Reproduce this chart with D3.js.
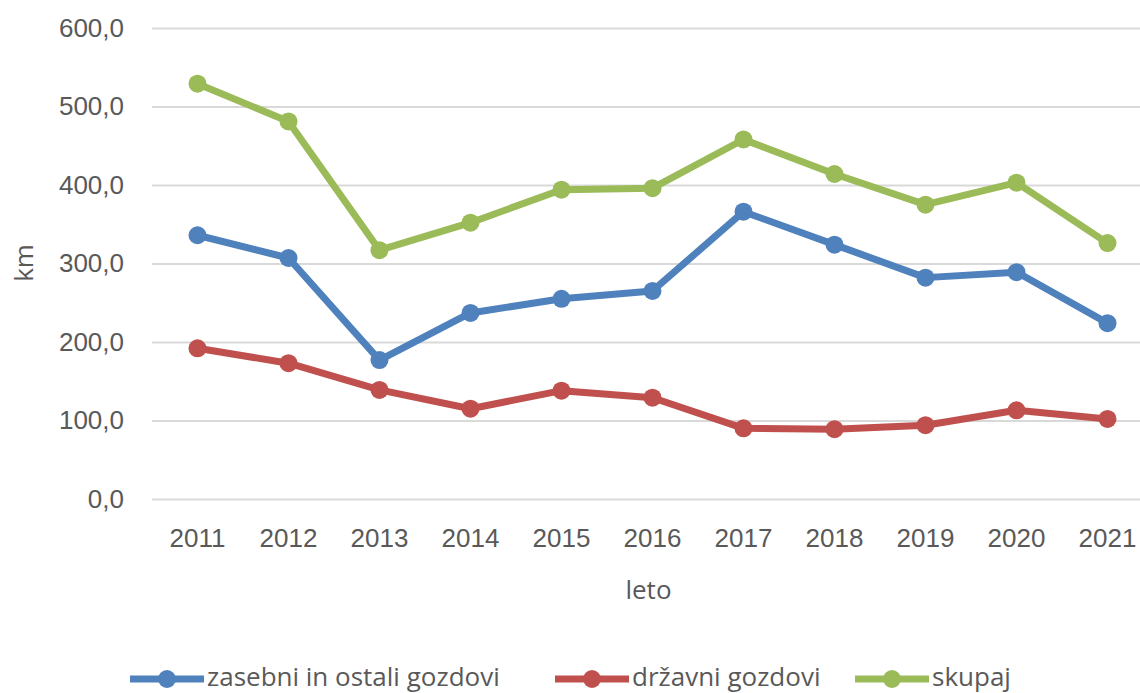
<!DOCTYPE html>
<html>
<head>
<meta charset="utf-8">
<script src="https://cdn.jsdelivr.net/npm/d3@7"></script>
<style>
  body { margin: 0; background: #fff; }
  svg { display: block; font-family: "Open Sans", sans-serif; }
  .tick text { fill: #595959; font-size: 26px; }
</style>
</head>
<body>
<div id="chart"></div>
<script>
// data
var years = ["2011","2012","2013","2014","2015","2016","2017","2018","2019","2020","2021"];
var zasebni = [336, 307, 177, 237, 255, 265, 366, 324, 282, 289, 224];
var drzavni = [192, 173, 139, 115, 138, 129, 90, 89, 94, 113, 102];
var skupaj  = [529, 481, 317, 352, 394, 396, 458, 414, 375, 403, 326];
var seriesNames  = ["zasebni in ostali gozdovi", "državni gozdovi", "skupaj"];
var seriesColors = ["#4F81BD", "#C0504D", "#9BBB59"];
var yTicks = [0, 100, 200, 300, 400, 500, 600];

var W = 1140, H = 693;
var plot = {left: 152, right: 1153, top: 28, bottom: 499};

var svg = d3.select("#chart").append("svg")
    .attr("width", W)
    .attr("height", H);

var x = d3.scaleBand()
    .domain(years)
    .range([plot.left, plot.right])
    .padding(0);

var y = d3.scaleLinear()
    .domain([0, 600])
    .range([plot.bottom, plot.top]);

var fmt = function(d) { return d3.format(".1f")(d).replace(".", ","); };

// gridlines + y labels
var yAxis = svg.append("g")
    .attr("transform", "translate(" + plot.left + ",0)")
    .call(d3.axisLeft(y).tickValues(yTicks).tickFormat(fmt)
        .tickSize(-(plot.right - plot.left)).tickPadding(28));
yAxis.select(".domain").remove();
yAxis.selectAll(".tick line").attr("stroke", "#d9d9d9").attr("stroke-width", 2);

// x labels
var xAxis = svg.append("g")
    .attr("transform", "translate(0," + plot.bottom + ")")
    .call(d3.axisBottom(x).tickSize(0).tickPadding(30));
xAxis.select(".domain").remove();

// axis titles
svg.append("text")
    .attr("x", (plot.left + plot.right) / 2 - 4)
    .attr("y", 599)
    .attr("text-anchor", "middle")
    .attr("fill", "#595959")
    .attr("font-size", 26)
    .text("leto");

svg.append("text")
    .attr("transform", "translate(33,263) rotate(-90)")
    .attr("text-anchor", "middle")
    .attr("fill", "#595959")
    .attr("font-size", 26)
    .text("km");

var allSeries = [zasebni, drzavni, skupaj];

var line = d3.line()
    .x(function(d, i) { return x(years[i]) + x.bandwidth() / 2; })
    .y(function(d) { return y(d); });

allSeries.forEach(function(vals, s) {
  var g = svg.append("g");
  g.append("path")
    .datum(vals)
    .attr("fill", "none")
    .attr("stroke", seriesColors[s])
    .attr("stroke-width", 7)
    .attr("stroke-linejoin", "round")
    .attr("d", line);
  g.selectAll("circle")
    .data(vals)
    .enter().append("circle")
    .attr("cx", function(d, i) { return x(years[i]) + x.bandwidth() / 2; })
    .attr("cy", function(d) { return y(d); })
    .attr("r", 9)
    .attr("fill", seriesColors[s]);
});

// legend (sits at the very bottom edge, as in the original)
var legendX = [130, 555, 855];
var legend = svg.append("g");
seriesNames.forEach(function(name, s) {
  var lg = legend.append("g").attr("transform", "translate(" + legendX[s] + ",679)");
  lg.append("line")
    .attr("x1", 0).attr("x2", 74)
    .attr("stroke", seriesColors[s])
    .attr("stroke-width", 7);
  lg.append("circle")
    .attr("cx", 37).attr("r", 9)
    .attr("fill", seriesColors[s]);
  lg.append("text")
    .attr("x", 77)
    .attr("y", 7)
    .attr("fill", "#595959")
    .attr("font-size", 26)
    .text(name);
});
</script>
</body>
</html>
